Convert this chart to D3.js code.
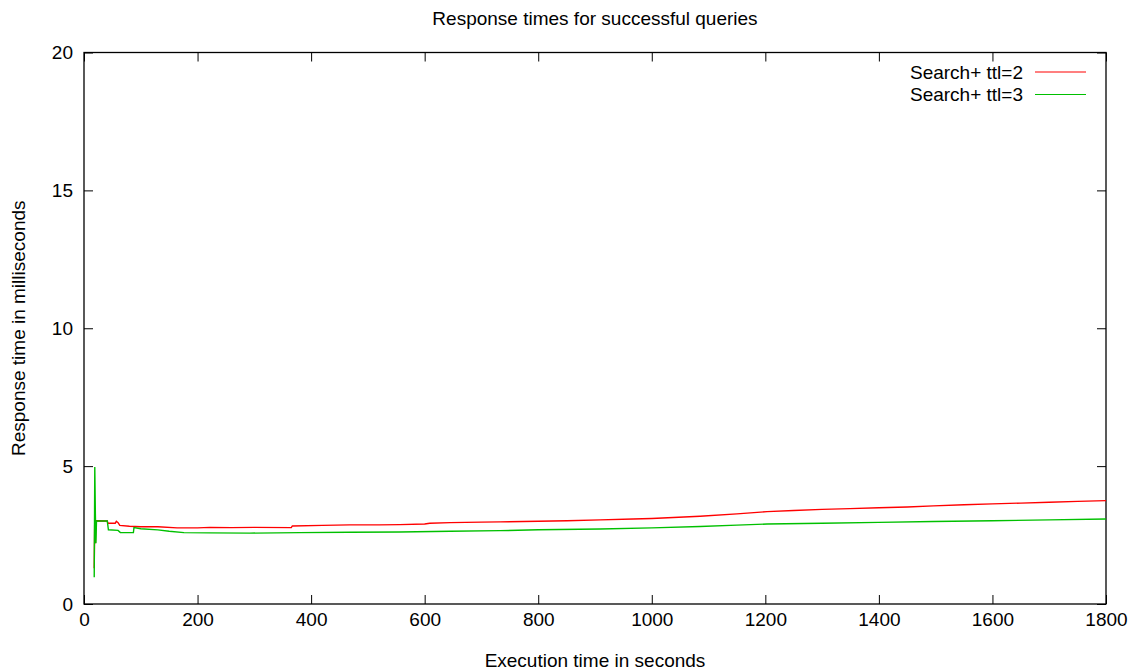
<!DOCTYPE html>
<html>
<head>
<meta charset="utf-8">
<script src="https://cdn.jsdelivr.net/npm/d3@7"></script>
<style>
  html, body { margin: 0; padding: 0; background: #fff; }
  svg text { font-family: "Liberation Sans", Arial, sans-serif; fill: #000; }
</style>
</head>
<body>
<svg id="chart" width="1137" height="670"></svg>
<script>
// Response time (ms) over execution time (s) for each TTL setting
const ttl2Time  = [18, 19, 20, 21, 22, 41, 42, 55, 57, 60, 63, 80, 100, 130, 164, 200, 222, 260, 300, 365, 367, 420, 468, 520, 556, 600, 609, 645, 700, 733, 800, 851, 909, 967, 1000, 1085, 1150, 1203, 1250, 1300, 1349, 1400, 1450, 1496, 1550, 1600, 1650, 1700, 1750, 1800];
const ttl2Value = [1.3, 3.3, 2.2, 3.0, 3.02, 3.01, 2.93, 2.93, 3.0, 2.95, 2.85, 2.82, 2.80, 2.80, 2.76, 2.76, 2.78, 2.77, 2.78, 2.77, 2.83, 2.85, 2.87, 2.87, 2.88, 2.90, 2.93, 2.95, 2.97, 2.98, 3.00, 3.02, 3.05, 3.08, 3.10, 3.18, 3.27, 3.35, 3.39, 3.43, 3.46, 3.49, 3.52, 3.56, 3.60, 3.63, 3.66, 3.69, 3.72, 3.75];

const ttl3Time  = [18, 19, 20, 21, 22, 41, 43, 60, 64, 87, 88, 100, 130, 150, 176, 220, 292, 380, 468, 556, 645, 733, 800, 909, 1000, 1085, 1150, 1203, 1300, 1400, 1496, 1600, 1700, 1800];
const ttl3Value = [0.97, 4.97, 3.3, 2.2, 3.02, 3.01, 2.69, 2.67, 2.59, 2.59, 2.77, 2.73, 2.69, 2.64, 2.59, 2.58, 2.57, 2.59, 2.60, 2.61, 2.64, 2.66, 2.69, 2.72, 2.76, 2.81, 2.86, 2.90, 2.93, 2.96, 2.99, 3.02, 3.05, 3.08];

const xTicks = [0, 200, 400, 600, 800, 1000, 1200, 1400, 1600, 1800];
const yTicks = [0, 5, 10, 15, 20];

const seriesNames  = ["Search+ ttl=2", "Search+ ttl=3"];
const seriesColors = ["#ff0000", "#00c000"];

const svg = d3.select("#chart");
const plotLeft = 84, plotRight = 1106, plotTop = 52.5, plotBottom = 604;
const fontSize = 19;
const fontFamily = "Liberation Sans, Arial, sans-serif";

const x = d3.scaleLinear().domain([0, 1800]).range([plotLeft, plotRight]);
const y = d3.scaleLinear().domain([0, 20]).range([plotBottom, plotTop]);

const tickLen = 9;

// Axes: labelled bottom/left, mirrored inward ticks on top/right
svg.append("g")
  .attr("transform", `translate(0,${plotBottom})`)
  .call(d3.axisBottom(x).tickValues(xTicks).tickSize(-tickLen).tickPadding(9).tickFormat(d3.format("d")))
  .call(g => g.select(".domain").remove())
  .call(g => g.selectAll("text").attr("font-size", fontSize).attr("font-family", fontFamily));

svg.append("g")
  .attr("transform", `translate(0,${plotTop})`)
  .call(d3.axisTop(x).tickValues(xTicks).tickSize(-tickLen).tickFormat(""))
  .call(g => g.select(".domain").remove());

svg.append("g")
  .attr("transform", `translate(${plotLeft},0)`)
  .call(d3.axisLeft(y).tickValues(yTicks).tickSize(-tickLen).tickPadding(11).tickFormat(d3.format("d")))
  .call(g => g.select(".domain").remove())
  .call(g => g.selectAll("text").attr("font-size", fontSize).attr("font-family", fontFamily));

svg.append("g")
  .attr("transform", `translate(${plotRight},0)`)
  .call(d3.axisRight(y).tickValues(yTicks).tickSize(-tickLen).tickFormat(""))
  .call(g => g.select(".domain").remove());

svg.selectAll(".tick line").attr("stroke", "#000").attr("stroke-width", 1);

// Plot frame
svg.append("rect")
  .attr("x", plotLeft).attr("y", plotTop)
  .attr("width", plotRight - plotLeft).attr("height", plotBottom - plotTop)
  .attr("fill", "none").attr("stroke", "#000").attr("stroke-width", 1.3);

// Series lines
const line = d3.line().x(d => x(d[0])).y(d => y(d[1]));
const series = [
  d3.zip(ttl2Time, ttl2Value),
  d3.zip(ttl3Time, ttl3Value)
];
series.forEach((pts, i) => {
  svg.append("path")
    .datum(pts)
    .attr("fill", "none")
    .attr("stroke", seriesColors[i])
    .attr("stroke-width", 1.4)
    .attr("d", line);
});

// Legend
seriesNames.forEach((name, i) => {
  const ly = 72 + i * 22.5;
  svg.append("text")
    .attr("x", 1023).attr("y", ly)
    .attr("dy", "0.35em")
    .attr("text-anchor", "end")
    .attr("font-size", fontSize)
    .text(name);
  svg.append("line")
    .attr("x1", 1035).attr("x2", 1086)
    .attr("y1", ly).attr("y2", ly)
    .attr("stroke", seriesColors[i])
    .attr("stroke-width", 1.2);
});

// Titles
svg.append("text")
  .attr("x", (plotLeft + plotRight) / 2).attr("y", 18)
  .attr("dy", "0.35em")
  .attr("text-anchor", "middle")
  .attr("font-size", fontSize)
  .text("Response times for successful queries");

svg.append("text")
  .attr("x", (plotLeft + plotRight) / 2).attr("y", 660)
  .attr("dy", "0.35em")
  .attr("text-anchor", "middle")
  .attr("font-size", fontSize)
  .text("Execution time in seconds");

svg.append("text")
  .attr("transform", `translate(18,${(plotTop + plotBottom) / 2}) rotate(-90)`)
  .attr("dy", "0.35em")
  .attr("text-anchor", "middle")
  .attr("font-size", fontSize)
  .text("Response time in milliseconds");
</script>
</body>
</html>
